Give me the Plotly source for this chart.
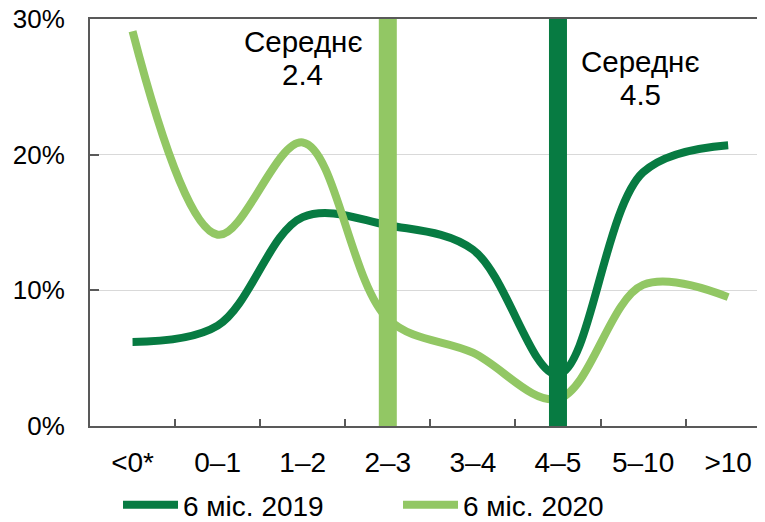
import plotly.graph_objects as go

categories = ["<0*", "0–1", "1–2", "2–3", "3–4", "4–5", "5–10", ">10"]
series_2019 = [6.2, 7.4, 15.4, 14.8, 13.0, 3.8, 18.7, 20.7]
series_2020 = [29.1, 14.1, 20.9, 7.9, 5.4, 2.0, 10.4, 9.5]
name_2019 = "6 міс. 2019"
name_2020 = "6 міс. 2020"
mean_label = "Середнє"
mean_2019 = 4.5
mean_2020 = 2.4
mean_cat_2019 = "4–5"
mean_cat_2020 = "2–3"
ytick_vals = [0, 10, 20, 30]
ytick_text = ["0%", "10%", "20%", "30%"]

DARK = "#077b42"
LIGHT = "#92c764"
AXIS = "#595959"
FONT = "Liberation Sans, Arial, sans-serif"

fig = go.Figure()
fig.add_trace(go.Scatter(x=categories, y=series_2019, name=name_2019, mode="lines",
                         line=dict(color=DARK, width=8, shape="spline", smoothing=1.0)))
fig.add_trace(go.Scatter(x=categories, y=series_2020, name=name_2020, mode="lines",
                         line=dict(color=LIGHT, width=8, shape="spline", smoothing=1.0)))
# mean markers (vertical bands)
fig.add_trace(go.Scatter(x=[mean_cat_2020, mean_cat_2020], y=[0, 30], mode="lines",
                         line=dict(color=LIGHT, width=18), showlegend=False, hoverinfo="skip"))
fig.add_trace(go.Scatter(x=[mean_cat_2019, mean_cat_2019], y=[0, 30], mode="lines",
                         line=dict(color=DARK, width=18), showlegend=False, hoverinfo="skip"))

afont = dict(size=29.5, color="black", family=FONT)
fig.add_annotation(x="1–2", y=28.37, text=mean_label, showarrow=False, font=afont, yanchor="middle")
fig.add_annotation(x="1–2", y=25.94, text=f"{mean_2020}", showarrow=False, font=afont, yanchor="middle")
fig.add_annotation(x="5–10", y=26.9, text=mean_label, showarrow=False, font=afont,
                   yanchor="middle", xshift=-3)
fig.add_annotation(x="5–10", y=24.47, text=f"{mean_2019}", showarrow=False, font=afont,
                   yanchor="middle", xshift=-3)

fig.update_layout(
    width=765, height=522,
    margin=dict(l=82, r=8, t=11, b=104, autoexpand=False),
    paper_bgcolor="white", plot_bgcolor="white",
    font=dict(family=FONT, size=28, color="black"),
    xaxis=dict(type="category", range=[-0.5, 7.433], showline=True, linecolor=AXIS, linewidth=2,
               mirror=True, ticks="inside", tickson="boundaries", ticklen=7, tickwidth=2,
               tickcolor=AXIS, showgrid=False, fixedrange=True, ticklabelstandoff=10,
               automargin=False, tickfont=dict(size=28)),
    yaxis=dict(range=[0, 30], tickvals=ytick_vals, ticktext=ytick_text, showline=True,
               linecolor=AXIS, linewidth=2, ticks="inside", ticklen=9, tickwidth=2,
               tickcolor=AXIS, showgrid=True, gridcolor="#d9d9d9", gridwidth=1,
               zeroline=False, ticklabelstandoff=18, automargin=False, tickfont=dict(size=26),
               ticklabeloverflow="allow"),
    legend=dict(orientation="h", x=0.0415, xanchor="left", y=-0.194, yanchor="middle",
                itemwidth=55, entrywidth=210, entrywidthmode="pixels", font=dict(size=28),
                bgcolor="rgba(0,0,0,0)"),
    showlegend=True,
)

fig.write_html("out.html")
